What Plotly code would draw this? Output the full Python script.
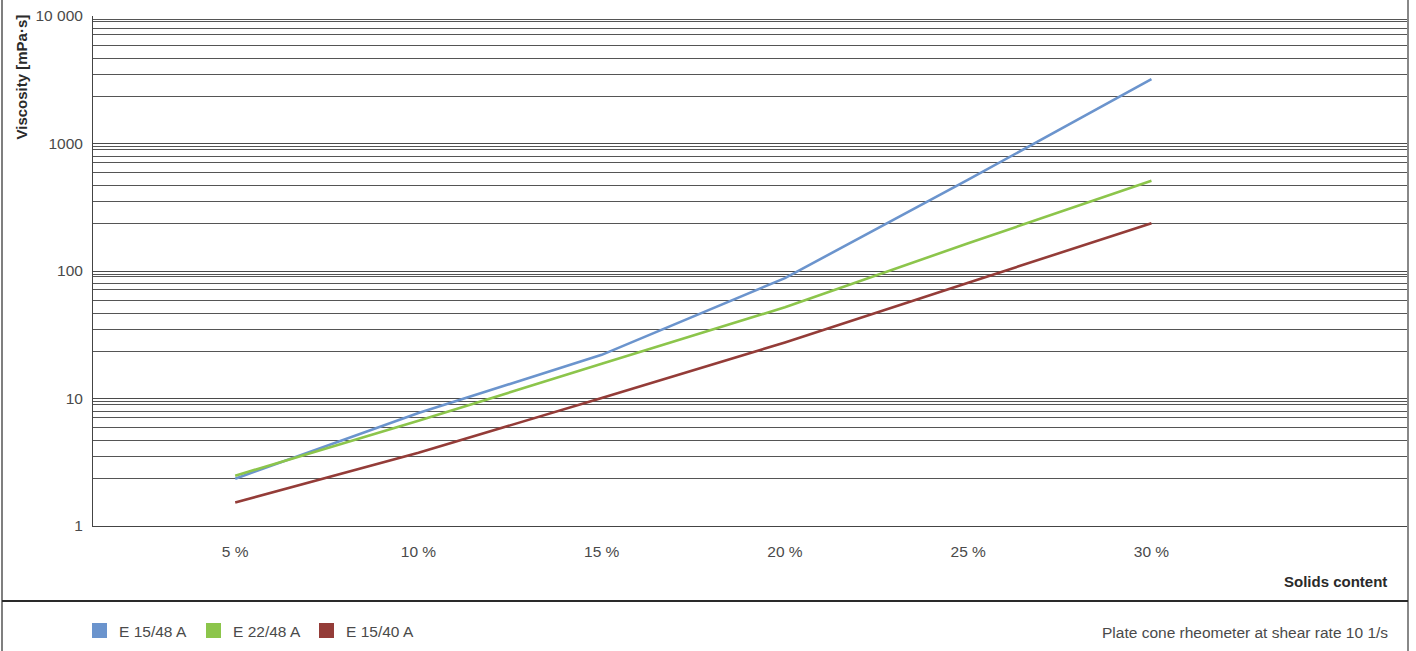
import plotly.graph_objects as go

# Solids content (%) and measured viscosity (mPa·s) per product
solids = [5, 10, 15, 20, 25, 30]
series_names = ["E 15/48 A", "E 22/48 A", "E 15/40 A"]
visc_e1548a = [2.35, 7.7, 22, 88, 520, 3200]
visc_e2248a = [2.48, 6.7, 18.7, 52, 165, 510]
visc_e1540a = [1.53, 3.75, 10.1, 27.5, 81, 237]
colors = ["#6b94cd", "#8cc54b", "#943c38"]

x_ticks = [5, 10, 15, 20, 25, 30]
x_ticktext = ["5 %", "10 %", "15 %", "20 %", "25 %", "30 %"]
y_ticks = [1, 10, 100, 1000, 10000]
y_ticktext = ["1", "10", "100", "1000", "10 000"]

# intermediate grid lines inside every decade
grid_multipliers = [2.34, 3.5, 4.68, 5.9, 7.1, 7.95, 9.0, 9.45]
decades = [1, 10, 100, 1000]
minor_vals = [d * m for d in decades for m in grid_multipliers]

W, H = 1416, 651
ML, MR, MT, MB = 93, 8, 16, 125
PW = W - ML - MR
PH = H - MT - MB


def px_x(px):
    return (px - ML) / PW


def px_y(py):
    return (H - MB - py) / PH


TICK_FONT = dict(family="Liberation Sans, Arial, sans-serif", size=15.5, color="#4a4a4a")
BOLD_FONT = dict(family="Liberation Sans, Arial, sans-serif", size=15, color="#2a2a2a", weight="bold")

fig = go.Figure()
for name, vals, col in zip(series_names, [visc_e1548a, visc_e2248a, visc_e1540a], colors):
    fig.add_trace(go.Scatter(x=solids, y=vals, name=name, mode="lines",
                             line=dict(color=col, width=2.6), showlegend=False))

fig.update_layout(
    width=W, height=H,
    margin=dict(l=ML, r=MR, t=MT, b=MB),
    paper_bgcolor="white", plot_bgcolor="white",
    showlegend=False,
    xaxis=dict(range=[1.12, 37.0], tickvals=x_ticks, ticktext=x_ticktext,
               showgrid=False, zeroline=False, ticks="", tickfont=TICK_FONT,
               showline=True, linecolor="#444444", linewidth=1,
               ticklabelstandoff=11),
    yaxis=dict(type="log", range=[0, 4], tickvals=y_ticks, ticktext=y_ticktext,
               showgrid=True, gridcolor="#4a4a4a", gridwidth=1, zeroline=False,
               ticks="", tickfont=TICK_FONT, showline=True, linecolor="#444444",
               linewidth=1, ticklabelstandoff=6,
               minor=dict(tickvals=minor_vals, showgrid=True, gridcolor="#555555",
                          gridwidth=1, ticks="")),
)

shapes = [
    # outer frame sides
    dict(type="line", xref="paper", yref="paper", x0=px_x(2), x1=px_x(2),
         y0=px_y(0), y1=px_y(H), line=dict(color="#555555", width=1.5)),
    dict(type="line", xref="paper", yref="paper", x0=px_x(1408), x1=px_x(1408),
         y0=px_y(0), y1=px_y(H), line=dict(color="#888888", width=2)),
    # separator between chart and legend strip
    dict(type="line", xref="paper", yref="paper", x0=px_x(2), x1=px_x(1408),
         y0=px_y(601), y1=px_y(601), line=dict(color="#2a2a2a", width=2)),
]

annotations = [
    dict(text="Viscosity [mPa·s]", xref="paper", yref="paper", x=px_x(21), y=px_y(13),
         xanchor="center", yanchor="top", textangle=-90, showarrow=False, font=BOLD_FONT),
    dict(text="Solids content", xref="paper", yref="paper", x=px_x(1389), y=px_y(581),
         xanchor="right", yanchor="middle", showarrow=False, font=BOLD_FONT),
    dict(text="Plate cone rheometer at shear rate 10 1/s", xref="paper", yref="paper",
         x=px_x(1390), y=px_y(632), xanchor="right", yanchor="middle", showarrow=False,
         font=TICK_FONT),
]

# legend strip: colour swatch followed by the series name
legend_x = [92, 206, 319]
for lx, name, col in zip(legend_x, series_names, colors):
    shapes.append(dict(type="rect", xref="paper", yref="paper",
                       x0=px_x(lx), x1=px_x(lx + 15), y0=px_y(623), y1=px_y(638),
                       fillcolor=col, line=dict(width=0)))
    annotations.append(dict(text=name, xref="paper", yref="paper", x=px_x(lx + 25),
                            y=px_y(631), xanchor="left", yanchor="middle",
                            showarrow=False, font=TICK_FONT))

fig.update_layout(shapes=shapes, annotations=annotations)
fig.write_html("out.html")
